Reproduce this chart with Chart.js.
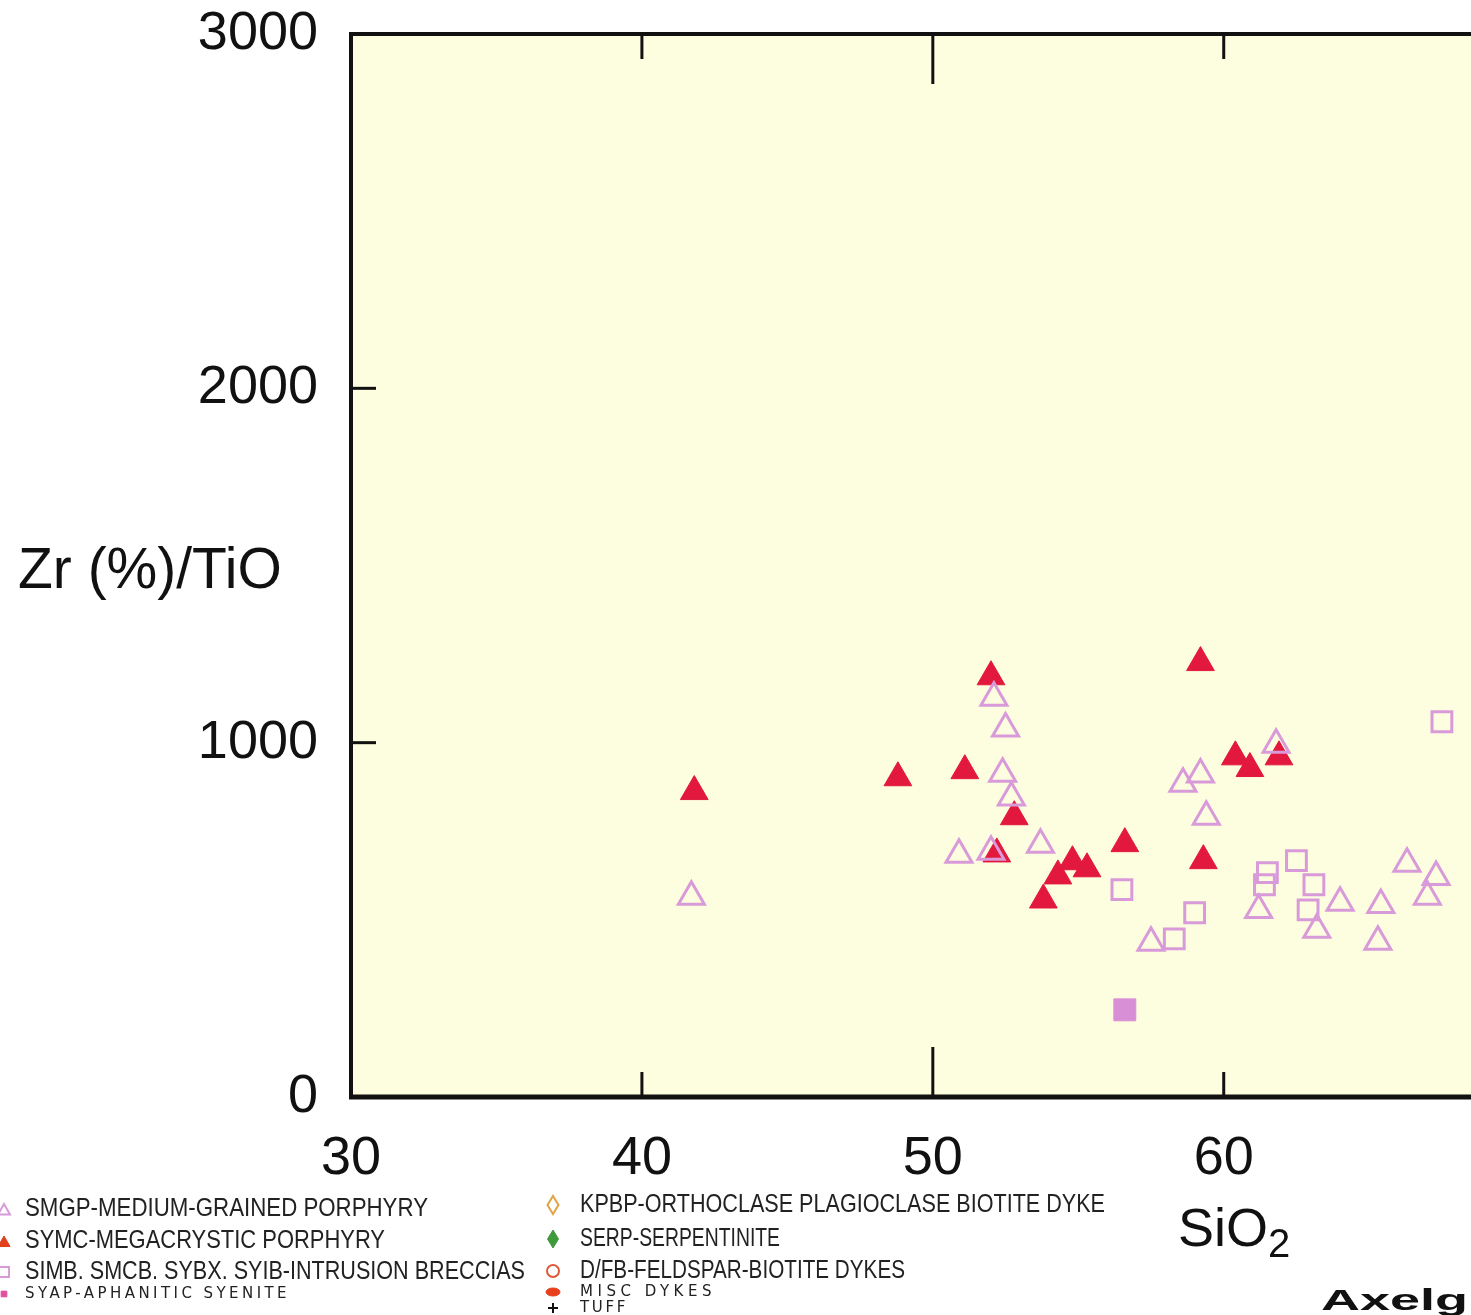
<!DOCTYPE html>
<html lang="en">
<head>
    <meta charset="UTF-8">
    <title>Zr (%)/TiO vs SiO2</title>
    <script src="https://cdn.jsdelivr.net/npm/chart.js"></script>
    <style>
        body {
            margin: 0;
            padding: 0;
            background-color: #ffffff;
        }

        .chart-container {
            position: relative;
            width: 1471px;
            height: 1315px;
        }
    </style>
</head>
<body>
    <div class="chart-container">
        <canvas id="zrChart"></canvas>
    </div>

    <script>
        // Axis ticks
        const xTicks = [30, 40, 50, 60];
        const yTicks = [0, 1000, 2000, 3000];

        // SMGP - medium-grained porphyry (open triangles)
        const smgpSiO2 = [41.7, 52.1, 52.5, 52.4, 52.7, 50.9, 52.0, 53.7, 57.5, 58.6, 59.2, 59.4, 61.2, 61.8, 63.2, 64.0, 65.4, 65.3, 66.3, 67.3, 67.0];
        const smgpZr = [565, 1127, 1040, 912, 845, 684, 692, 712, 435, 884, 910, 791, 528, 994, 472, 548, 542, 438, 658, 621, 565];

        // SYMC - megacrystic porphyry (filled triangles)
        const symcSiO2 = [41.8, 48.8, 51.1, 52.0, 52.8, 52.2, 53.8, 54.3, 54.8, 55.3, 56.6, 59.2, 59.3, 60.4, 60.9, 61.9];
        const symcZr = [862, 901, 921, 1186, 791, 686, 556, 624, 664, 644, 715, 1226, 667, 960, 927, 960];

        // SIMB, SMCB, SYBX, SYIB - intrusion breccias (open squares)
        const simbSiO2 = [56.5, 58.3, 59.0, 61.5, 61.4, 62.5, 63.1, 62.9, 67.5];
        const simbZr = [585, 446, 520, 633, 599, 667, 599, 528, 1059];

        // SYAP - aphanitic syenite (filled square)
        const syapSiO2 = [56.6];
        const syapZr = [246];

        const labels = [
            'SMGP-MEDIUM-GRAINED PORPHYRY',
            'SYMC-MEGACRYSTIC PORPHYRY',
            'SIMB. SMCB. SYBX. SYIB-INTRUSION BRECCIAS',
            'SYAP-APHANITIC SYENITE',
            'KPBP-ORTHOCLASE PLAGIOCLASE BIOTITE DYKE',
            'SERP-SERPENTINITE',
            'D/FB-FELDSPAR-BIOTITE DYKES',
            'MISC DYKES',
            'TUFF'
        ];

        function toPoints(xs, ys) {
            return xs.map((v, i) => ({ x: v, y: ys[i] }));
        }

        const FONT = "'Liberation Sans', Arial, sans-serif";
        const SMALL_FONT = "'DejaVu Sans', sans-serif";
        const PLUM = '#d99ad9';
        const RED = '#e2183f';

        // where each legend entry sits (dataset index -> slot)
        const legendSlots = [
            { mx: 4, my: 1211, r: 7, tx: 25, ty: 1209, size: 26, width: 403 },
            { mx: 4, my: 1243, r: 7, tx: 25, ty: 1241, size: 26, width: 360 },
            { mx: 4, my: 1272, r: 7, tx: 25, ty: 1272, size: 26, width: 500 },
            { mx: 4, my: 1294, r: 4, tx: 25, ty: 1294, size: 15, width: 265, small: true },
            { mx: 553, my: 1205, r: 9, w: 11, tx: 580, ty: 1205, size: 26, width: 525 },
            { mx: 553, my: 1239, r: 9, w: 11, tx: 580, ty: 1239, size: 26, width: 200 },
            { mx: 553, my: 1271, r: 6, tx: 580, ty: 1271, size: 26, width: 325 },
            { mx: 553, my: 1292, r: 4, w: 14, tx: 580, ty: 1292, size: 15, width: 136, small: true },
            { mx: 553, my: 1308, r: 5, tx: 580, ty: 1308, size: 15, width: 48, small: true }
        ];

        // fill the plot area, draw the frame and the inward tick marks
        const framePlugin = {
            id: 'frame',
            beforeDraw(chart) {
                const { ctx, chartArea: a } = chart;
                ctx.save();
                ctx.fillStyle = '#fdfde0';
                ctx.fillRect(a.left, a.top, a.right - a.left, a.bottom - a.top);
                ctx.restore();
            },
            beforeDatasetsDraw(chart) {
                const { ctx, chartArea: a, scales } = chart;
                const line = (x1, y1, x2, y2) => {
                    ctx.beginPath();
                    ctx.moveTo(x1, y1);
                    ctx.lineTo(x2, y2);
                    ctx.stroke();
                };
                ctx.save();
                ctx.strokeStyle = '#111';
                ctx.lineWidth = 4;
                line(a.left, a.top, a.right, a.top);
                line(a.left, a.top - 2, a.left, a.bottom + 2);
                ctx.lineWidth = 5;
                line(a.left - 2, a.bottom, a.right, a.bottom);

                ctx.lineWidth = 3;
                xTicks.slice(1).forEach(v => {
                    const px = scales.x.getPixelForValue(v);
                    const len = v === 50 ? 50 : 25;
                    line(px, a.bottom, px, a.bottom - len);
                    line(px, a.top, px, a.top + len);
                });
                yTicks.slice(1, -1).forEach(v => {
                    const py = scales.y.getPixelForValue(v);
                    line(a.left, py, a.left + 25, py);
                });
                ctx.restore();
            }
        };

        // axis titles, legend and the cut-off caption
        const textPlugin = {
            id: 'texts',
            afterDraw(chart) {
                const ctx = chart.ctx;
                ctx.save();
                ctx.fillStyle = '#111';
                ctx.textBaseline = 'alphabetic';
                ctx.textAlign = 'left';

                ctx.font = '57px ' + FONT;
                ctx.fillText('Zr (%)/TiO', 18, 588);

                ctx.font = '54px ' + FONT;
                ctx.fillText('SiO', 1178, 1246);
                const w = ctx.measureText('SiO').width;
                ctx.font = '40px ' + FONT;
                ctx.fillText('2', 1178 + w, 1257);

                // legend
                ctx.textBaseline = 'middle';
                chart.data.datasets.forEach((ds, i) => {
                    const s = legendSlots[i];
                    ctx.save();
                    ctx.fillStyle = ds.legendFill || ds.backgroundColor;
                    ctx.strokeStyle = ds.legendStroke || ds.borderColor;
                    ctx.lineWidth = Math.min(ds.borderWidth, 2);
                    const opts = { pointStyle: ds.pointStyle, radius: s.r, rotation: 0, borderWidth: ctx.lineWidth };
                    if (Chart.helpers && Chart.helpers.drawPointLegend) {
                        Chart.helpers.drawPointLegend(ctx, opts, s.mx, s.my, s.w);
                    } else {
                        Chart.helpers.drawPoint(ctx, opts, s.mx, s.my);
                    }
                    ctx.restore();

                    ctx.fillStyle = '#222';
                    ctx.font = s.size + 'px ' + (s.small ? SMALL_FONT : FONT);
                    ctx.letterSpacing = '0px';
                    const tw = ctx.measureText(ds.label).width;
                    if (tw > s.width) {
                        ctx.fillText(ds.label, s.tx, s.ty, s.width);
                    } else {
                        ctx.letterSpacing = ((s.width - tw) / ds.label.length).toFixed(2) + 'px';
                        ctx.fillText(ds.label, s.tx, s.ty);
                        ctx.letterSpacing = '0px';
                    }
                });

                // caption cut by the page edge
                ctx.textBaseline = 'alphabetic';
                ctx.fillStyle = '#111';
                ctx.font = 'bold 30px ' + FONT;
                ctx.translate(1321, 1310);
                ctx.scale(1.8, 1);
                ctx.fillText('Axelg', 0, 0);
                ctx.restore();
            }
        };

        // keep the plot area where the page puts it, whatever the label sizes
        function noScalePadding(scale) {
            scale.paddingTop = 0;
            scale.paddingBottom = 0;
            scale.paddingLeft = 0;
            scale.paddingRight = 0;
        }

        const ctx = document.getElementById('zrChart').getContext('2d');
        const chart = new Chart(ctx, {
            type: 'scatter',
            data: {
                datasets: [
                    {
                        label: labels[0],
                        data: toPoints(smgpSiO2, smgpZr),
                        pointStyle: 'triangle',
                        pointRadius: 15,
                        backgroundColor: 'rgba(0,0,0,0)',
                        borderColor: PLUM,
                        borderWidth: 3
                    },
                    {
                        label: labels[1],
                        data: toPoints(symcSiO2, symcZr),
                        pointStyle: 'triangle',
                        pointRadius: 16,
                        backgroundColor: RED,
                        borderColor: RED,
                        borderWidth: 1,
                        legendFill: '#e2401c',
                        legendStroke: '#e2401c'
                    },
                    {
                        label: labels[2],
                        data: toPoints(simbSiO2, simbZr),
                        pointStyle: 'rect',
                        pointRadius: 14,
                        backgroundColor: 'rgba(0,0,0,0)',
                        borderColor: PLUM,
                        borderWidth: 3
                    },
                    {
                        label: labels[3],
                        data: toPoints(syapSiO2, syapZr),
                        pointStyle: 'rect',
                        pointRadius: 15.5,
                        backgroundColor: '#d98fd6',
                        borderColor: '#d98fd6',
                        borderWidth: 1,
                        legendFill: '#e0509e',
                        legendStroke: '#e0509e'
                    },
                    {
                        label: labels[4],
                        data: [],
                        pointStyle: 'rectRot',
                        backgroundColor: 'rgba(0,0,0,0)',
                        borderColor: '#e0a448',
                        borderWidth: 2
                    },
                    {
                        label: labels[5],
                        data: [],
                        pointStyle: 'rectRot',
                        backgroundColor: '#3f9a3c',
                        borderColor: '#3f9a3c',
                        borderWidth: 1
                    },
                    {
                        label: labels[6],
                        data: [],
                        pointStyle: 'circle',
                        backgroundColor: 'rgba(0,0,0,0)',
                        borderColor: '#e0583a',
                        borderWidth: 2
                    },
                    {
                        label: labels[7],
                        data: [],
                        pointStyle: 'circle',
                        backgroundColor: '#e8401c',
                        borderColor: '#e8401c',
                        borderWidth: 1
                    },
                    {
                        label: labels[8],
                        data: [],
                        pointStyle: 'cross',
                        backgroundColor: '#111',
                        borderColor: '#111',
                        borderWidth: 2
                    }
                ]
            },
            options: {
                responsive: true,
                maintainAspectRatio: false,
                animation: false,
                layout: {
                    autoPadding: false,
                    padding: { top: 34, left: 0, right: 0, bottom: 0 }
                },
                scales: {
                    x: {
                        type: 'linear',
                        min: 30,
                        max: 68.5,
                        grid: { display: false, drawTicks: false },
                        border: { display: false },
                        afterBuildTicks: scale => {
                            scale.ticks = xTicks.map(v => ({ value: v }));
                        },
                        afterFit: scale => {
                            scale.height = 218;
                            noScalePadding(scale);
                        },
                        ticks: {
                            autoSkip: false,
                            maxRotation: 0,
                            padding: 30,
                            color: '#111',
                            font: { family: FONT, size: 54 },
                            callback: v => String(v)
                        }
                    },
                    y: {
                        type: 'linear',
                        min: 0,
                        max: 3000,
                        grid: { display: false, drawTicks: false },
                        border: { display: false },
                        afterBuildTicks: scale => {
                            scale.ticks = yTicks.map(v => ({ value: v }));
                        },
                        afterFit: scale => {
                            scale.width = 351;
                            noScalePadding(scale);
                        },
                        ticks: {
                            autoSkip: false,
                            padding: 33,
                            color: '#111',
                            font: { family: FONT, size: 54 },
                            callback: v => String(v)
                        }
                    }
                },
                plugins: {
                    legend: { display: false },
                    tooltip: { enabled: false }
                }
            },
            plugins: [framePlugin, textPlugin]
        });
    </script>
</body>
</html>
